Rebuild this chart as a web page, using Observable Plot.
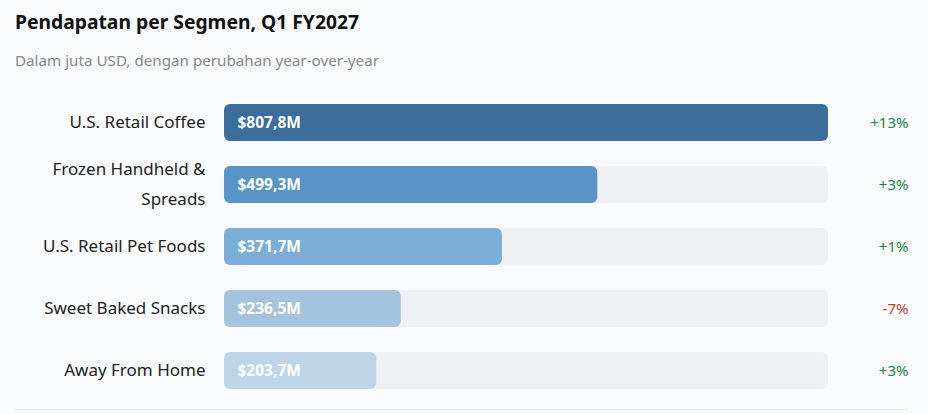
<!DOCTYPE html>
<html>
<head>
<meta charset="utf-8">
<script src="https://cdn.jsdelivr.net/npm/d3@7"></script>
<script src="https://cdn.jsdelivr.net/npm/@observablehq/plot@0.6"></script>
<style>
  html, body { margin: 0; padding: 0; background: #f8fafc; }
  body { width: 928px; height: 414px; overflow: hidden; font-family: "Noto Sans", "Open Sans", sans-serif; }
  .title { position: absolute; left: 15px; top: 9px; font-size: 19.3px; font-weight: 700; color: #111; line-height: 26px; }
  .subtitle { position: absolute; left: 15px; top: 50px; font-size: 15.2px; color: #888; line-height: 21px; }
  #chart { position: absolute; left: 0; top: 88px; }
  .rule { position: absolute; left: 15px; top: 409px; width: 893px; border-top: 1px solid #e5e7eb; }
</style>
</head>
<body>
<div class="title">Pendapatan per Segmen, Q1 FY2027</div>
<div class="subtitle">Dalam juta USD, dengan perubahan year-over-year</div>
<div id="chart"></div>
<div class="rule"></div>
<script>
const segments = ["U.S. Retail Coffee", "Frozen Handheld & Spreads", "U.S. Retail Pet Foods", "Sweet Baked Snacks", "Away From Home"];
const revenue = [807.8, 499.3, 371.7, 236.5, 203.7];
const changePct = [13, 3, 1, -7, 3];

const barColors = ["#3b6e9d", "#5994c6", "#7aaed6", "#a3c3df", "#bed4e8"];

const rows = segments.map((s, i) => ({segment: s, revenue: revenue[i], change: changePct[i]}));
const maxRev = d3.max(revenue);
const fmtRev = v => "$" + v.toFixed(1).replace(".", ",") + "M";
const fmtChg = v => (v > 0 ? "+" : "") + v + "%";

const labelSize = 17, labelLH = 1.82;

const chart = Plot.plot({
  width: 928,
  height: 320,
  marginLeft: 224,
  marginRight: 100,
  marginTop: 8,
  marginBottom: 12,
  style: {background: "transparent", fontFamily: "'Noto Sans', 'Open Sans', sans-serif"},
  x: {domain: [0, maxRev], axis: null},
  y: {domain: segments, axis: null, paddingInner: 0.41, paddingOuter: 0.1},
  color: {domain: segments, range: barColors},
  marks: [
    Plot.barX(rows, {y: "segment", x1: 0, x2: maxRev, fill: "#eff0f3", rx: 6}),
    Plot.barX(rows, {y: "segment", x1: 0, x2: "revenue", fill: "segment", rx: 6}),
    Plot.text(rows, {y: "segment", x: 0, dx: 13, text: d => fmtRev(d.revenue), textAnchor: "start", fill: "white", fontSize: 15.5, fontWeight: 700}),
    Plot.text(rows, {y: "segment", frameAnchor: "left", dx: -19, dy: -0.35 * (labelLH - 1) * labelSize, text: "segment", textAnchor: "end", fill: "#222", fontSize: labelSize, fontWeight: 400, lineWidth: 11.5, lineHeight: labelLH}),
    Plot.text(rows, {y: "segment", frameAnchor: "right", dx: 80, text: d => fmtChg(d.change), textAnchor: "end", fill: d => d.change < 0 ? "#c0392b" : "#1e8449", fontSize: 15, fontWeight: 400})
  ]
});
document.getElementById("chart").appendChild(chart);
</script>
</body>
</html>
